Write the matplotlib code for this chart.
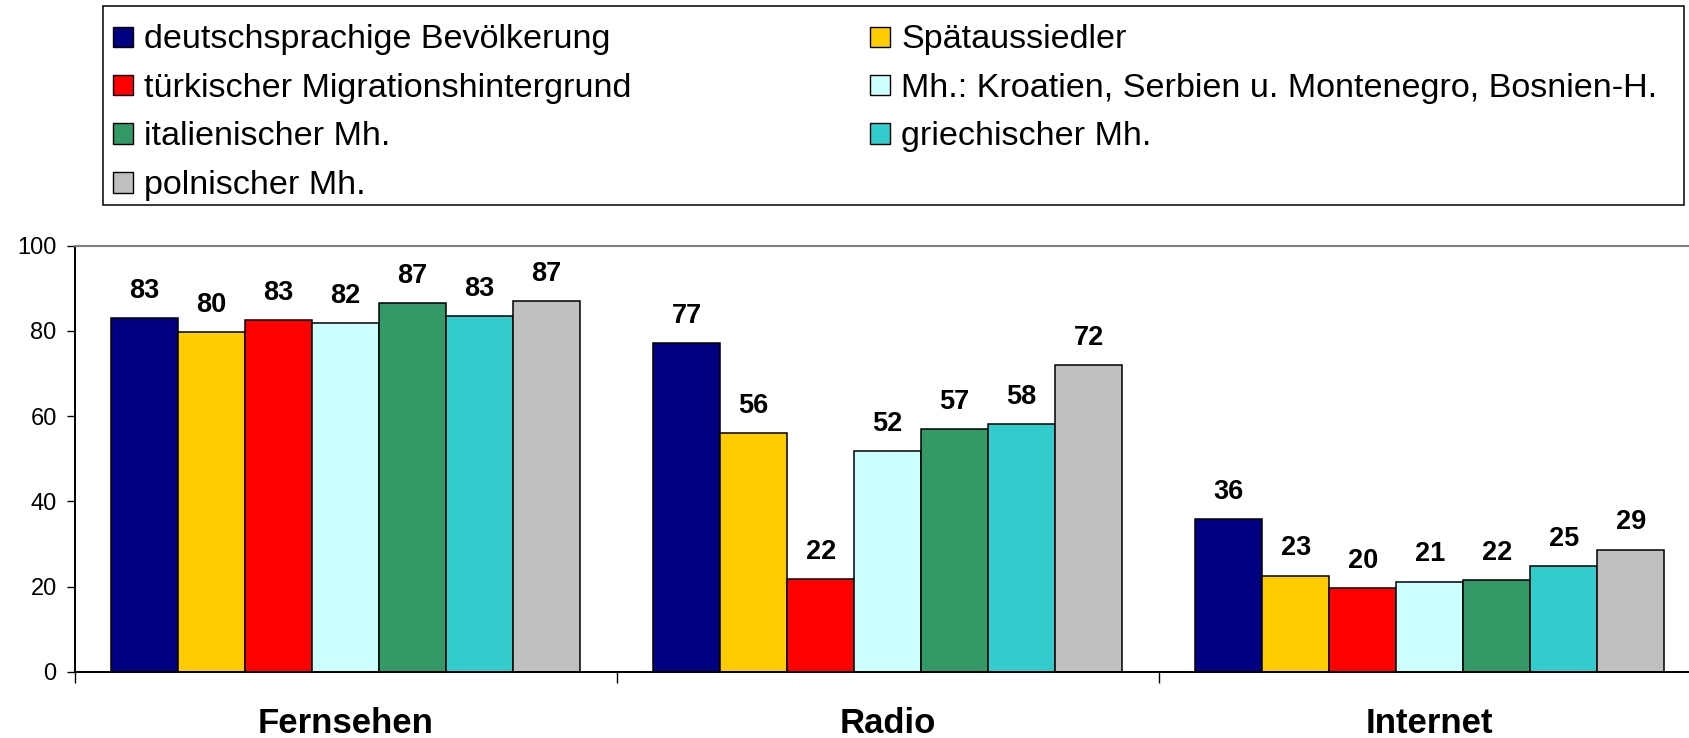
import matplotlib
matplotlib.use("Agg")
import matplotlib.pyplot as plt
from matplotlib.patches import Rectangle
import numpy as np

plt.rcParams['font.family'] = ['Liberation Sans', 'DejaVu Sans']

# data
categories = ['Fernsehen', 'Radio', 'Internet']
series = ['deutschsprachige Bevölkerung', 'Spätaussiedler',
          'türkischer Migrationshintergrund',
          'Mh.: Kroatien, Serbien u. Montenegro, Bosnien-H.',
          'italienischer Mh.', 'griechischer Mh.', 'polnischer Mh.']
deutsch = [82.9, 77.1, 35.8]
spaet = [79.8, 56.1, 22.6]
tuerk = [82.6, 21.8, 19.7]
kroat = [81.9, 51.9, 21.2]
ital = [86.6, 56.9, 21.6]
griech = [83.4, 58.2, 24.9]
poln = [86.9, 71.9, 28.7]
colors = ['#000080', '#FFCC00', '#FF0000', '#CCFFFF', '#339966', '#33CCCC', '#C0C0C0']

values = [deutsch, spaet, tuerk, kroat, ital, griech, poln]

W, H = 1689, 738
fig = plt.figure(figsize=(W / 100, H / 100), dpi=100)

# plot area in pixels (top-left origin)
x0, x1, ytop, ybot = 74.7, 1700.7, 245.5, 672
ax = fig.add_axes([x0 / W, 1 - ybot / H, (x1 - x0) / W, (ybot - ytop) / H])

bw = 0.1236
x = np.arange(len(categories)) + 0.5
for i, (vals, c) in enumerate(zip(values, colors)):
    pos = x + (i - 3) * bw
    ax.bar(pos, vals, width=bw, color=c, edgecolor='black', linewidth=1.1)
    for px, v in zip(pos, vals):
        ax.annotate(f"{v:.0f}", (px, v), xytext=(0, 14.5), textcoords='offset points',
                    ha='center', va='baseline', fontsize=19.5, fontweight='bold')

ax.set_xlim(0, 3)
ax.set_ylim(0, 100)
ax.set_yticks(range(0, 101, 20))
ax.tick_params(axis='y', labelsize=17, length=6, width=1, direction='out', pad=7)
ax.set_xticks(x)
ax.set_xticklabels(categories, fontsize=25, fontweight='bold')
ax.tick_params(axis='x', which='major', length=0, pad=25)
ax.set_xticks([0, 1, 2, 3], minor=True)
ax.tick_params(axis='x', which='minor', length=8, width=1, direction='out')

for s in ['left', 'bottom']:
    ax.spines[s].set_color('black')
    ax.spines[s].set_linewidth(1.4)
for s in ['top', 'right']:
    ax.spines[s].set_color('#808080')
    ax.spines[s].set_linewidth(1.5)

# legend box, laid out row by row like the original
def fx(px):
    return px / W

def fy(py):
    return 1 - py / H

fig.patches.append(Rectangle((fx(102.7), fy(205)), (1684 - 102.7) / W, (205 - 6) / H,
                             transform=fig.transFigure, facecolor='white',
                             edgecolor='black', linewidth=1.1))
col_x = [113.5, 870]
row_y = [36.7, 85, 133.5, 182.5]
for i, (name, c) in enumerate(zip(series, colors)):
    r, col = divmod(i, 2)
    mx, my = col_x[col], row_y[r]
    fig.patches.append(Rectangle((fx(mx), fy(my + 10)), 20 / W, 20 / H,
                                 transform=fig.transFigure, facecolor=c,
                                 edgecolor='black', linewidth=1.0))
    fig.text(fx(mx + 31), fy(my + 11.6), name, fontsize=24.6, ha='left', va='baseline')

fig.savefig("out.png", dpi=100)
